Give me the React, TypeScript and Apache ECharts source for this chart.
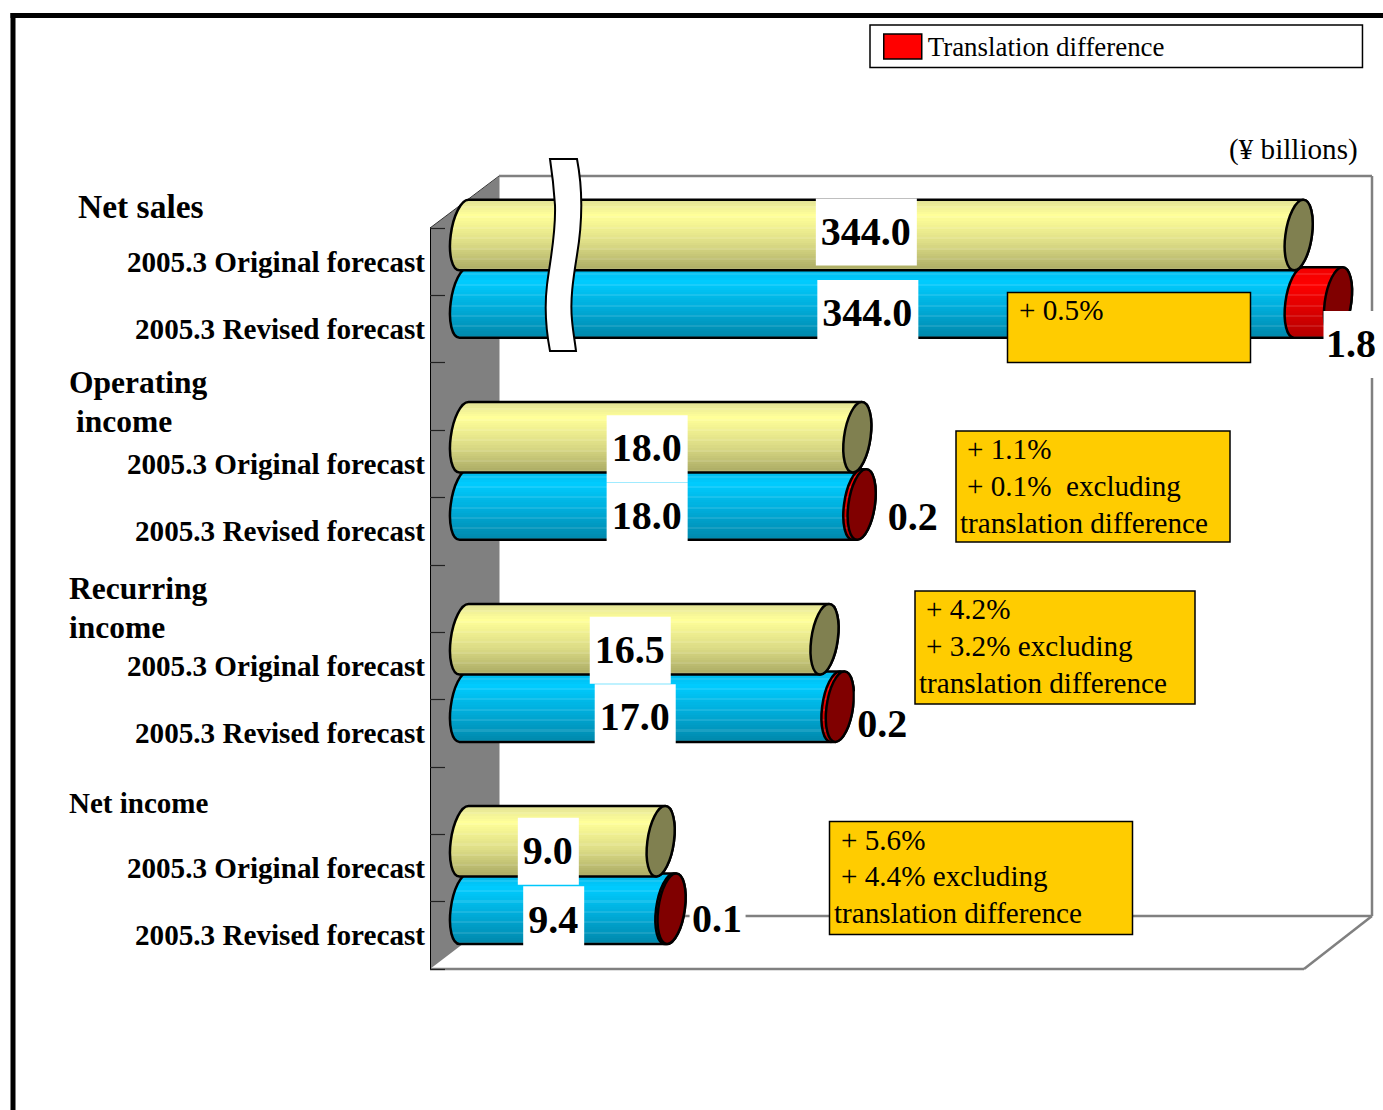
import React, { useEffect, useRef } from "react";
import * as echarts from "echarts";

const axisCategories = [
  "2005.3 Original forecast", "2005.3 Revised forecast", "",
  "2005.3 Original forecast", "2005.3 Revised forecast", "",
  "2005.3 Original forecast", "2005.3 Revised forecast", "",
  "2005.3 Original forecast", "2005.3 Revised forecast",
];
const originalValues = [344.0, 18.0, 16.5, 9.0];
const revisedValues = [344.0, 18.0, 17.0, 9.4];
const translationValues = [1.8, 0.2, 0.2, 0.1];
const originalText = ["344.0", "18.0", "16.5", "9.0"];
const revisedText = ["344.0", "18.0", "17.0", "9.4"];
const translationText = ["1.8", "0.2", "0.2", "0.1"];

const originalLabelShift = [[-15, -3], [-13.5, 11.5], [-14, 11], [-14, 10]];
const revisedLabelShift = [[-13.5, 11], [-13.5, 11.5], [-14.5, 11], [-13, 11]];
const translationLabelShift = [[13.5, 42], [51.5, 12.5], [43, 18], [46, 10]];

const SERIF = '"Liberation Serif"';
const DEPTH_X = 34;
const DEPTH_Y = -26.6;
const BAR_H = 70.5;
const SHEAR = 4.5;
const RX = 13.3;
const STROKE = 2.5;
const LW = 1.5;
const K = 0.5523;

const hex = (c: number[]) =>
  "rgb(" + c.map((v) => Math.max(0, Math.min(255, Math.round(v)))).join(",") + ")";

function banded(anchors: [number, number[]][], bands = 34) {
  const stops: any[] = [];
  for (let i = 0; i < bands; i++) {
    const t = (i + 0.5) / bands;
    let j = 0;
    while (j < anchors.length - 2 && t > anchors[j + 1][0]) j++;
    const [t0, c0] = anchors[j];
    const [t1, c1] = anchors[j + 1];
    const k = Math.min(1, Math.max(0, (t - t0) / (t1 - t0)));
    let c = c0.map((v, n) => v + (c1[n] - v) * k);
    if (i % 5 === 3) c = c.map((v) => v + (255 - v) * 0.1);
    stops.push({ offset: i / bands, color: hex(c) });
    stops.push({ offset: (i + 1) / bands, color: hex(c) });
  }
  return new echarts.graphic.LinearGradient(0, 0, 0, 1, stops);
}

const YELLOW = banded([
  [0, [225, 225, 150]],
  [0.22, [255, 255, 153]],
  [0.6, [222, 222, 135]],
  [1, [170, 170, 100]],
]);
const BLUE = banded([
  [0, [0, 180, 230]],
  [0.2, [0, 204, 255]],
  [0.6, [0, 170, 215]],
  [1, [0, 135, 170]],
]);
const RED = banded([
  [0, [240, 0, 0]],
  [0.25, [255, 0, 0]],
  [1, [180, 0, 0]],
]);

// The cross-section of each cylinder is a slightly tilted ellipse, drawn as Bezier arcs.
function arcTo(cx: number, cy: number, d: number, a: number[], b: number[], dir = 1) {
  const map = (u: number, v: number) => [cx + RX * u - SHEAR * v, cy + d * v];
  const p1 = map(a[0] - dir * K * a[1], a[1] + dir * K * a[0]);
  const p2 = map(b[0] + dir * K * b[1], b[1] - dir * K * b[0]);
  const p3 = map(b[0], b[1]);
  return `C${p1[0]} ${p1[1]} ${p2[0]} ${p2[1]} ${p3[0]} ${p3[1]}`;
}

const E = [1, 0];
const S = [0, 1];
const W = [-1, 0];
const N = [0, -1];

function ellipsePath(cx: number, cy: number, d: number) {
  return (
    `M${cx + RX} ${cy}` +
    arcTo(cx, cy, d, E, S) +
    arcTo(cx, cy, d, S, W) +
    arcTo(cx, cy, d, W, N) +
    arcTo(cx, cy, d, N, E) +
    "Z"
  );
}

function cylinderPath(x0: number, x1: number, cy: number) {
  const d = BAR_H / 2;
  return (
    `M${x0 + SHEAR} ${cy - d}` +
    arcTo(x0, cy, d, N, W, -1) +
    arcTo(x0, cy, d, W, S, -1) +
    `L${x1 - SHEAR} ${cy + d}` +
    arcTo(x1, cy, d, S, E, -1) +
    arcTo(x1, cy, d, E, N, -1) +
    "Z"
  );
}

function valueLabel(text: string, cx: number, cy: number, boxW?: number) {
  const w = boxW ?? (text.length - 1) * 20 + 10 + 11;
  return [
    {
      type: "rect",
      z2: 100,
      shape: { x: cx - w / 2, y: cy - 33.5, width: w, height: 67 },
      style: { fill: "#ffffff" },
    },
    {
      type: "text",
      z2: 101,
      style: {
        text,
        x: cx - 0.5,
        y: cy - 0.7,
        align: "center",
        verticalAlign: "middle",
        fill: "#000",
        font: `bold 40px ${SERIF}`,
      },
    },
  ];
}

function barRender(fill: any, cap: string | null, texts: string[], shifts: number[][], z2: number) {
  return (params: any, api: any) => {
    const v = api.value(0);
    const cat = api.value(1);
    const [x1Raw, yRaw] = api.coord([v, cat]);
    const [x0Raw] = api.coord([0, cat]);
    const x0 = x0Raw + DEPTH_X;
    const x1 = x1Raw + DEPTH_X;
    const cy = yRaw + DEPTH_Y;
    const children: any[] = [
      {
        type: "path",
        z2,
        shape: { pathData: cylinderPath(x0, x1, cy) },
        style: { fill, stroke: "#000", lineWidth: STROKE },
      },
    ];
    if (cap) {
      children.push({
        type: "path",
        z2,
        shape: { pathData: ellipsePath(x1, cy, BAR_H / 2) },
        style: { fill: cap, stroke: "#000", lineWidth: STROKE },
      });
    }
    const [dx, dy] = shifts[params.dataIndex];
    children.push(...valueLabel(texts[params.dataIndex], (x0 + x1) / 2 + dx, cy + dy));
    return { type: "group", children };
  };
}

function redRender(params: any, api: any) {
  const base = api.value(0);
  const extra = api.value(1);
  const cat = api.value(2);
  const [xbRaw, yRaw] = api.coord([base, cat]);
  const [xeRaw] = api.coord([base + extra, cat]);
  const xb = xbRaw + DEPTH_X;
  const xe = xeRaw + DEPTH_X;
  const cy = yRaw + DEPTH_Y;
  const [dx, dy] = translationLabelShift[params.dataIndex];
  return {
    type: "group",
    children: [
      {
        type: "path",
        z2: 2,
        shape: { pathData: cylinderPath(xb, xe, cy) },
        style: { fill: RED, stroke: "#000", lineWidth: STROKE },
      },
      {
        type: "path",
        z2: 2,
        shape: { pathData: ellipsePath(xe, cy, BAR_H / 2) },
        style: { fill: "#800000", stroke: "#000", lineWidth: STROKE },
      },
      ...valueLabel(translationText[params.dataIndex], xe + dx, cy + dy, 56),
    ],
  };
}

const BREAK_PATH =
  "M550 159L577 159C583 190 582 225 577 255C573 280 570 300 572 320C573 332 575 342 576 351" +
  "L550 351C546 330 544 310 547 285C550 260 556 235 555 205C554 190 552 172 550 159Z";

function text(t: string, x: number, y: number, size: number, bold = false, z = 60) {
  return {
    type: "text",
    z,
    style: {
      text: t,
      x,
      y,
      fill: "#000",
      verticalAlign: "middle",
      font: `${bold ? "bold " : ""}${size}px ${SERIF}`,
    },
  };
}

function note(x: number, y: number, w: number, h: number) {
  return {
    type: "rect",
    z: 50,
    shape: { x, y, width: w, height: h },
    style: { fill: "#ffcc00", stroke: "#000", lineWidth: LW },
  };
}

function greyLine(x1: number, y1: number, x2: number, y2: number) {
  return {
    type: "line",
    z: -2,
    shape: { x1, y1, x2, y2 },
    style: { stroke: "#808080", lineWidth: 2.5 },
  };
}

const NOTE_SIZE = 29.15;

export default function App() {
  const ref = useRef<HTMLDivElement>(null);
  useEffect(() => {
    if (!ref.current) return;
    echarts.graphic.registerShape("breakMark", echarts.graphic.extendPath(BREAK_PATH, {}));
    const chart = echarts.init(ref.current, undefined, { renderer: "svg" });
    const catIndex = (g: number, k: number) => g * 3 + k;
    chart.setOption({
      animation: false,
      backgroundColor: "#ffffff",
      textStyle: { fontFamily: SERIF },
      grid: { left: 430, top: 228, width: 874, height: 741 },
      legend: {
        data: ["Translation difference"],
        left: 870,
        top: 25,
        icon: "rect",
        selectedMode: false,
        itemWidth: 38,
        itemHeight: 25,
        itemGap: 7,
        padding: [8, 198, 7.5, 13],
        backgroundColor: "#fff",
        borderColor: "#000",
        borderWidth: LW,
        itemStyle: { borderColor: "#000", borderWidth: LW },
        textStyle: { fontFamily: SERIF, fontSize: 26.9, color: "#000", padding: [0, 0, 2, 1] },
      },
      xAxis: {
        type: "value",
        show: false,
        min: 0,
        max: 345.8,
        breaks: [{ start: 20, end: 325.8, gap: 0 }],
        breakArea: { show: false },
      },
      yAxis: {
        type: "category",
        inverse: true,
        data: axisCategories,
        axisLine: { show: true, lineStyle: { color: "#000", width: 1 } },
        axisTick: { show: true, inside: true, length: 15, lineStyle: { color: "#222", width: 1.2 } },
        axisLabel: {
          interval: 0,
          margin: 5,
          color: "#000",
          fontFamily: SERIF,
          fontWeight: "bold",
          fontSize: 29.15,
        },
      },
      series: [
        {
          type: "custom",
          name: "Revised forecast",
          z: 2,
          coordinateSystem: "cartesian2d",
          clip: false,
          encode: { x: 0, y: 1 },
          data: revisedValues.map((v, g) => [v, catIndex(g, 1)]),
          renderItem: barRender(BLUE, null, revisedText, revisedLabelShift, 1),
        },
        {
          type: "custom",
          name: "Translation difference",
          z: 2,
          coordinateSystem: "cartesian2d",
          clip: false,
          itemStyle: { color: "#ff0000" },
          encode: { x: 0, y: 2 },
          data: translationValues.map((v, g) => [revisedValues[g], v, catIndex(g, 1)]),
          renderItem: redRender,
        },
        {
          type: "custom",
          name: "Original forecast",
          z: 2,
          coordinateSystem: "cartesian2d",
          clip: false,
          encode: { x: 0, y: 1 },
          data: originalValues.map((v, g) => [v, catIndex(g, 0)]),
          renderItem: barRender(YELLOW, "#808050", originalText, originalLabelShift, 3),
        },
      ],
      graphic: [
        { type: "rect", z: 70, shape: { x: 10.5, y: 13, width: 1373, height: 5 }, style: { fill: "#000" } },
        { type: "rect", z: 70, shape: { x: 10.5, y: 13, width: 5, height: 1097 }, style: { fill: "#000" } },
        {
          type: "polygon",
          z: -1,
          shape: { points: [[430, 228], [499.5, 176], [499.5, 916], [430, 969]] },
          style: { fill: "#808080" },
        },
        {
          type: "line",
          z: -1,
          shape: { x1: 430, y1: 228, x2: 499, y2: 176 },
          style: { stroke: "#333", lineWidth: 1 },
        },
        greyLine(499, 176, 1372, 176),
        greyLine(1372, 176, 1372, 916),
        greyLine(499, 916, 1372, 916),
        greyLine(430, 969, 1304, 969),
        greyLine(1304, 969, 1372, 916),
        { type: "breakMark", z: 60, x: 0, y: 0, style: { fill: "#fff", stroke: "#000", lineWidth: 2 } },

        text("(¥ billions)", 1229, 149, NOTE_SIZE),
        text("Net sales", 78, 206, 33.5, true),
        text("Operating", 69, 382, 31.5, true),
        text("income", 76, 421, 31.5, true),
        text("Recurring", 69, 588, 31.5, true),
        text("income", 69, 627, 31.5, true),
        text("Net income", 69, 803, 29, true),

        note(1007.5, 292.5, 243, 70),
        text("+ 0.5%", 1019, 310, NOTE_SIZE),
        note(956, 431, 274, 111),
        text("+ 1.1%", 967, 448.5, NOTE_SIZE),
        text("+ 0.1%  excluding", 967, 486, NOTE_SIZE),
        text("translation difference", 960, 522.5, NOTE_SIZE),
        note(915, 591, 280, 113),
        text("+ 4.2%", 926, 608.5, NOTE_SIZE),
        text("+ 3.2% excluding", 926, 646, NOTE_SIZE),
        text("translation difference", 919, 682.5, NOTE_SIZE),
        note(829.5, 821.5, 303, 113),
        text("+ 5.6%", 841, 839.5, NOTE_SIZE),
        text("+ 4.4% excluding", 841, 875.5, NOTE_SIZE),
        text("translation difference", 834, 912.5, NOTE_SIZE),
      ],
    });
    return () => chart.dispose();
  }, []);
  return (
    <div
      ref={ref}
      style={{ position: "absolute", left: 0, top: 0, width: 1383, height: 1110 }}
    />
  );
}
